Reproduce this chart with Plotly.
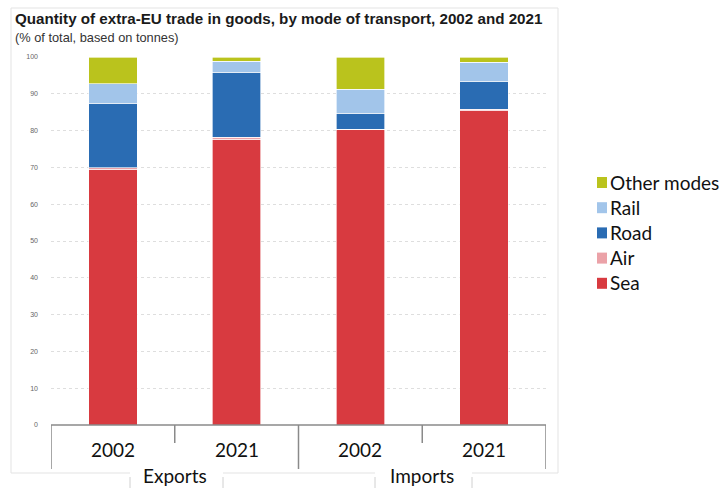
import plotly.graph_objects as go

# ---- data ----
flows = ["Exports", "Exports", "Imports", "Imports"]
years = ["2002", "2021", "2002", "2021"]
group_labels = ["Exports", "Imports"]
modes = ["Sea", "Air", "Road", "Rail", "Other modes"]
sea = [69.5, 77.7, 80.3, 85.4]
air = [0.4, 0.5, 0.1, 0.4]
road = [17.5, 17.7, 4.3, 7.6]
rail = [5.4, 2.9, 6.5, 5.2]
other = [7.2, 1.2, 8.8, 1.4]
y_ticks = [0, 10, 20, 30, 40, 50, 60, 70, 80, 90, 100]

colors = {"Sea": "#d83a40", "Air": "#eba2a8", "Road": "#2a6cb3",
          "Rail": "#a2c5ea", "Other modes": "#bac31d"}
series = {"Sea": sea, "Air": air, "Road": road, "Rail": rail, "Other modes": other}

# pixel geometry helpers
L, R, T, B = 51, 546, 57, 425
W, H = 723, 488
def xp(px):
    return (px - L) / (R - L)
def yp(py):
    return (B - py) / (B - T)

xs = list(range(len(years)))

fig = go.Figure()
for m in modes:
    fig.add_trace(go.Bar(
        x=xs, y=series[m], name=m,
        marker=dict(color=colors[m], line=dict(color="rgba(255,255,255,0.8)", width=0.8)),
        width=0.39, showlegend=False,
    ))

shapes = []
# chart frame (light border)
line_c = "#e3e3e3"
shapes.append(dict(type="line", xref="paper", yref="paper", x0=xp(11), x1=xp(11), y0=yp(8), y1=yp(473), line=dict(color=line_c, width=1)))
shapes.append(dict(type="line", xref="paper", yref="paper", x0=xp(558), x1=xp(558), y0=yp(8), y1=yp(473), line=dict(color=line_c, width=1)))
shapes.append(dict(type="line", xref="paper", yref="paper", x0=xp(11), x1=xp(558), y0=yp(8), y1=yp(8), line=dict(color=line_c, width=1)))
for a, b in [(11, 130), (223, 375), (472, 558)]:
    shapes.append(dict(type="line", xref="paper", yref="paper", x0=xp(a), x1=xp(b), y0=yp(473), y1=yp(473), line=dict(color=line_c, width=1)))
# label box edges
for px in [130, 223, 375, 472]:
    shapes.append(dict(type="line", xref="paper", yref="paper", x0=xp(px), x1=xp(px), y0=yp(477), y1=yp(490), line=dict(color="#d0d0d0", width=1)))

# category axis dividers
ax_c = "#8a8a8a"
for xv, long in [(-0.5, True), (0.5, False), (1.5, True), (2.5, False), (3.5, True)]:
    shapes.append(dict(type="line", xref="x", yref="paper", x0=xv, x1=xv,
                       y0=yp(425), y1=yp(469 if long else 443), line=dict(color=ax_c, width=1.5)))
shapes.append(dict(type="line", xref="x", yref="paper", x0=-0.5, x1=3.5, y0=0, y1=0, line=dict(color=ax_c, width=1.5)))

annotations = []
annotations.append(dict(xref="paper", yref="paper", x=xp(13), y=yp(18), xanchor="left", yanchor="middle",
                        text="<b>Quantity of extra-EU trade in goods, by mode of transport, 2002 and 2021</b>",
                        showarrow=False, font=dict(family="Liberation Sans, Arial", size=15.2, color="#1a1a1a")))
annotations.append(dict(xref="paper", yref="paper", x=xp(13), y=yp(37.5), xanchor="left", yanchor="middle",
                        text="(% of total, based on tonnes)",
                        showarrow=False, font=dict(family="Liberation Sans, Arial", size=12.8, color="#333333")))
for xv, yr in zip(xs, years):
    annotations.append(dict(xref="x", yref="paper", x=xv, y=yp(449), xanchor="center", yanchor="middle",
                            text=yr, showarrow=False, font=dict(family="Lato, Open Sans", size=19, color="#111111")))
for cx, g in zip([0.5, 2.5], group_labels):
    annotations.append(dict(xref="x", yref="paper", x=cx, y=yp(475), xanchor="center", yanchor="middle",
                            text=g, showarrow=False, font=dict(family="Lato, Open Sans", size=19, color="#111111")))

# legend (top to bottom: reversed stacking order)
leg_y0, leg_dy = 182, 25.2
for i, m in enumerate(reversed(modes)):
    cy = leg_y0 + i * leg_dy
    shapes.append(dict(type="rect", xref="paper", yref="paper", x0=xp(597), x1=xp(607),
                       y0=yp(cy + 6), y1=yp(cy - 5), fillcolor=colors[m], line=dict(width=0)))
    annotations.append(dict(xref="paper", yref="paper", x=xp(608), y=yp(cy), xanchor="left", yanchor="middle",
                            text=m, showarrow=False, font=dict(family="Lato, Open Sans", size=19, color="#111111")))

fig.update_layout(
    width=W, height=H,
    margin=dict(l=L, r=W - R, t=T, b=H - B, pad=0, autoexpand=False),
    paper_bgcolor="white", plot_bgcolor="white",
    barmode="stack",
    bargap=0.6,
    showlegend=False,
    xaxis=dict(range=[-0.5, 3.5], showticklabels=False, showgrid=False, zeroline=False, showline=False,
               fixedrange=True),
    yaxis=dict(range=[0, 100], tickvals=y_ticks, ticktext=[str(v) for v in y_ticks],
               tickfont=dict(family="Liberation Sans, Arial", size=7, color="#666666"),
               showgrid=True, gridcolor="#dedede", griddash="dot", gridwidth=1,
               zeroline=False, showline=False, ticks="", ticklabelstandoff=12),
    shapes=shapes,
    annotations=annotations,
)

fig.write_html("out.html", config={"displayModeBar": False},
               post_script="document.body.style.margin='0';document.body.style.overflow='hidden';")
